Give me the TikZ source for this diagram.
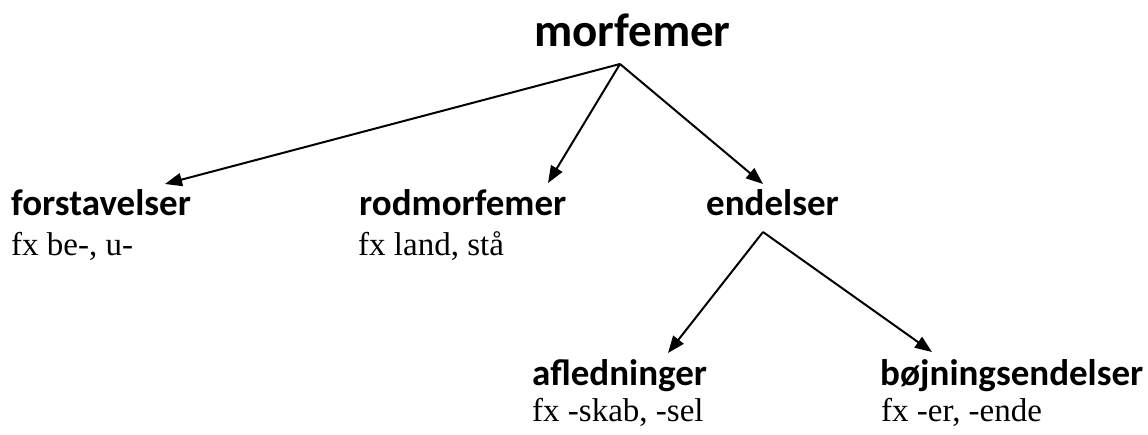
\documentclass[tikz,border=0pt]{standalone}
\usepackage{fontspec}
\setmainfont{Liberation Serif}
\newfontfamily\headfont{Carlito}
\usetikzlibrary{arrows.meta}
\tikzset{
  title/.style={inner sep=0pt, anchor=base west, font=\headfont\bfseries\fontsize{47}{50}\selectfont},
  head/.style={inner sep=0pt, anchor=base west, font=\headfont\bfseries\fontsize{37}{40}\selectfont},
  ex/.style={inner sep=0pt, anchor=base west, font=\fontsize{33}{36}\selectfont},
  conn/.style={line width=2pt, -{Triangle[length=17pt,width=13pt]}}
}
\begin{document}
\begin{tikzpicture}[x=1pt,y=-1pt]
\useasboundingbox[fill=white] (0,0) rectangle (1148,435);
\node[title] (morf) at (534,47) {morfemer};
\node[head] (forst) at (11,216) {forstavelser};
\node[ex] (forstex) at (11,256) {fx be-, u-};
\node[head] (rod) at (359,216) {rodmorfemer};
\node[ex] (rodex) at (358,256) {fx land, stå};
\node[head] (end) at (706,216) {endelser};
\node[head] (afl) at (532,385) {afledninger};
\node[ex] (aflex) at (532,421) {fx -skab, -sel};
\node[head] (boj) at (880,385) {bøjningsendelser};
\node[ex] (bojex) at (881,421) {fx -er, -ende};
\coordinate (mapex) at (620,64);
\coordinate (eapex) at (763,232);
\coordinate (tforst) at (165,184);
\coordinate (trod) at (548,183);
\coordinate (tend) at (763,184);
\coordinate (tafl) at (668,353);
\coordinate (tboj) at (932,352);
\draw[conn] (mapex) -- (tforst);
\draw[conn] (mapex) -- (trod);
\draw[conn] (mapex) -- (tend);
\draw[conn] (eapex) -- (tafl);
\draw[conn] (eapex) -- (tboj);
\end{tikzpicture}
\end{document}
